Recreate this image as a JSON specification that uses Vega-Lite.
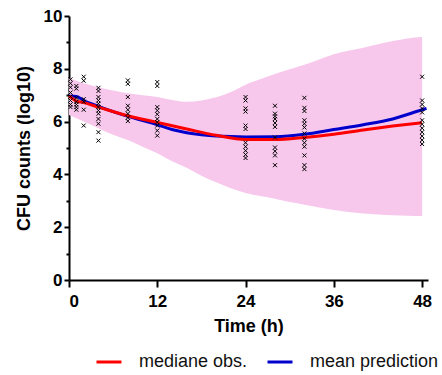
{
  "$schema": "https://vega.github.io/schema/vega-lite/v6.json",
  "width": 359,
  "height": 264,
  "autosize": "none",
  "padding": {"left": 69, "top": 16, "right": 14, "bottom": 95},
  "background": "white",
  "config": {
    "view": {"stroke": null},
    "axis": {
      "domainColor": "black", "domainWidth": 2, "tickColor": "black", "tickWidth": 2,
      "labelFont": "Liberation Sans", "labelFontWeight": "bold", "labelFontSize": 17, "labelColor": "black",
      "titleFont": "Liberation Sans", "titleFontWeight": "bold", "titleFontSize": 18, "titleColor": "black",
      "grid": false
    }
  },
  "datasets": {
    "band": [
      {"t": 0, "lo": 6.25, "hi": 7.65}, {"t": 2, "lo": 6.0, "hi": 7.45}, {"t": 4, "lo": 5.75, "hi": 7.3},
      {"t": 6, "lo": 5.5, "hi": 7.18}, {"t": 8, "lo": 5.3, "hi": 7.07}, {"t": 10, "lo": 5.05, "hi": 7.0},
      {"t": 12, "lo": 4.8, "hi": 6.93}, {"t": 14, "lo": 4.5, "hi": 6.82}, {"t": 16, "lo": 4.25, "hi": 6.75},
      {"t": 18, "lo": 3.95, "hi": 6.8}, {"t": 20, "lo": 3.7, "hi": 6.92}, {"t": 22, "lo": 3.48, "hi": 7.12},
      {"t": 24, "lo": 3.3, "hi": 7.4}, {"t": 26, "lo": 3.18, "hi": 7.6}, {"t": 28, "lo": 3.08, "hi": 7.8},
      {"t": 30, "lo": 2.95, "hi": 7.98}, {"t": 32, "lo": 2.85, "hi": 8.15}, {"t": 34, "lo": 2.75, "hi": 8.35},
      {"t": 36, "lo": 2.65, "hi": 8.55}, {"t": 38, "lo": 2.58, "hi": 8.68}, {"t": 40, "lo": 2.52, "hi": 8.8},
      {"t": 42, "lo": 2.48, "hi": 8.93}, {"t": 44, "lo": 2.45, "hi": 9.05}, {"t": 46, "lo": 2.43, "hi": 9.15},
      {"t": 48, "lo": 2.42, "hi": 9.2}
    ],
    "blue": [
      {"t": 0, "v": 6.97, "series": "mean prediction"}, {"t": 1, "v": 6.95, "series": "mean prediction"},
      {"t": 2, "v": 6.8, "series": "mean prediction"}, {"t": 4, "v": 6.58, "series": "mean prediction"},
      {"t": 8, "v": 6.2, "series": "mean prediction"}, {"t": 12, "v": 5.88, "series": "mean prediction"},
      {"t": 14, "v": 5.7, "series": "mean prediction"}, {"t": 16, "v": 5.58, "series": "mean prediction"},
      {"t": 18, "v": 5.5, "series": "mean prediction"}, {"t": 20, "v": 5.45, "series": "mean prediction"},
      {"t": 24, "v": 5.42, "series": "mean prediction"}, {"t": 28, "v": 5.43, "series": "mean prediction"},
      {"t": 32, "v": 5.52, "series": "mean prediction"}, {"t": 36, "v": 5.7, "series": "mean prediction"},
      {"t": 40, "v": 5.88, "series": "mean prediction"}, {"t": 44, "v": 6.1, "series": "mean prediction"},
      {"t": 48, "v": 6.45, "series": "mean prediction"}, {"t": 48.6, "v": 6.5, "series": "mean prediction"}
    ],
    "red": [
      {"t": 0, "v": 6.97, "series": "mediane obs."}, {"t": 1, "v": 6.78, "series": "mediane obs."},
      {"t": 2, "v": 6.72, "series": "mediane obs."}, {"t": 4, "v": 6.55, "series": "mediane obs."},
      {"t": 8, "v": 6.22, "series": "mediane obs."}, {"t": 12, "v": 5.97, "series": "mediane obs."},
      {"t": 16, "v": 5.72, "series": "mediane obs."}, {"t": 20, "v": 5.48, "series": "mediane obs."},
      {"t": 24, "v": 5.32, "series": "mediane obs."}, {"t": 28, "v": 5.32, "series": "mediane obs."},
      {"t": 32, "v": 5.4, "series": "mediane obs."}, {"t": 36, "v": 5.52, "series": "mediane obs."},
      {"t": 40, "v": 5.68, "series": "mediane obs."}, {"t": 44, "v": 5.83, "series": "mediane obs."},
      {"t": 48, "v": 5.96, "series": "mediane obs."}
    ],
    "obs": [
      {"t": 0.2, "c": 7.6}, {"t": 0.2, "c": 7.45}, {"t": 0.2, "c": 7.3}, {"t": 0.2, "c": 7.1}, {"t": 0.2, "c": 6.95}, {"t": 0.2, "c": 6.8}, {"t": 0.2, "c": 6.65}, {"t": 0.2, "c": 6.55},
      {"t": 1, "c": 7.35}, {"t": 1, "c": 7.25}, {"t": 1, "c": 6.9}, {"t": 1, "c": 6.75}, {"t": 1, "c": 6.65}, {"t": 1, "c": 6.55}, {"t": 1, "c": 6.45},
      {"t": 2, "c": 7.7}, {"t": 2, "c": 7.55}, {"t": 2, "c": 6.85}, {"t": 2, "c": 6.75}, {"t": 2, "c": 6.45}, {"t": 2, "c": 5.85},
      {"t": 4, "c": 7.28}, {"t": 4, "c": 7.16}, {"t": 4, "c": 6.93}, {"t": 4, "c": 6.8}, {"t": 4, "c": 6.68}, {"t": 4, "c": 6.55}, {"t": 4, "c": 6.42}, {"t": 4, "c": 6.3}, {"t": 4, "c": 6.1}, {"t": 4, "c": 5.92}, {"t": 4, "c": 5.6}, {"t": 4, "c": 5.28},
      {"t": 8, "c": 7.56}, {"t": 8, "c": 7.43}, {"t": 8, "c": 6.93}, {"t": 8, "c": 6.6}, {"t": 8, "c": 6.45}, {"t": 8, "c": 6.3}, {"t": 8, "c": 6.15}, {"t": 8, "c": 6.02},
      {"t": 12, "c": 7.5}, {"t": 12, "c": 7.35}, {"t": 12, "c": 6.55}, {"t": 12, "c": 6.42}, {"t": 12, "c": 6.28}, {"t": 12, "c": 6.1}, {"t": 12, "c": 5.98}, {"t": 12, "c": 5.85}, {"t": 12, "c": 5.66}, {"t": 12, "c": 5.47},
      {"t": 24, "c": 6.93}, {"t": 24, "c": 6.8}, {"t": 24, "c": 6.5}, {"t": 24, "c": 6.38}, {"t": 24, "c": 5.85}, {"t": 24, "c": 5.72}, {"t": 24, "c": 5.2}, {"t": 24, "c": 5.05}, {"t": 24, "c": 4.9}, {"t": 24, "c": 4.75}, {"t": 24, "c": 4.62},
      {"t": 28, "c": 6.6}, {"t": 28, "c": 6.3}, {"t": 28, "c": 6.2}, {"t": 28, "c": 6.1}, {"t": 28, "c": 5.95}, {"t": 28, "c": 5.8}, {"t": 28, "c": 5.4}, {"t": 28, "c": 5.02}, {"t": 28, "c": 4.88}, {"t": 28, "c": 4.72}, {"t": 28, "c": 4.35},
      {"t": 32, "c": 6.9}, {"t": 32, "c": 6.52}, {"t": 32, "c": 6.4}, {"t": 32, "c": 6.05}, {"t": 32, "c": 5.92}, {"t": 32, "c": 5.78}, {"t": 32, "c": 5.55}, {"t": 32, "c": 5.35}, {"t": 32, "c": 5.2}, {"t": 32, "c": 5.05}, {"t": 32, "c": 4.72}, {"t": 32, "c": 4.35}, {"t": 32, "c": 4.2},
      {"t": 48, "c": 7.7}, {"t": 48, "c": 6.8}, {"t": 48, "c": 6.65}, {"t": 48, "c": 6.5}, {"t": 48, "c": 6.35}, {"t": 48, "c": 6.05}, {"t": 48, "c": 5.9}, {"t": 48, "c": 5.75}, {"t": 48, "c": 5.6}, {"t": 48, "c": 5.45}, {"t": 48, "c": 5.3}, {"t": 48, "c": 5.15}
    ]
  },
  "resolve": {"axis": {"y": "independent"}},
  "layer": [
    {
      "data": {"name": "band"},
      "mark": {"type": "area", "color": "#F7C8EC", "interpolate": "monotone", "opacity": 1},
      "encoding": {
        "x": {"field": "t", "type": "quantitative", "scale": {"domain": [0, 48.8], "nice": false},
          "axis": {"values": [0, 12, 24, 36, 48], "title": "Time (h)", "tickSize": 7, "labelPadding": 6, "titlePadding": 8}},
        "y": {"field": "hi", "type": "quantitative", "scale": {"domain": [0, 10], "nice": false},
          "axis": {"orient": "left", "values": [0, 2, 4, 6, 8, 10], "title": "CFU counts (log10)", "tickSize": 5, "labelPadding": 2, "titlePadding": 10}},
        "y2": {"field": "lo"}
      }
    },
    {
      "data": {"name": "blue"},
      "mark": {"type": "line", "strokeWidth": 3, "interpolate": "monotone"},
      "encoding": {
        "x": {"field": "t", "type": "quantitative"},
        "y": {"field": "v", "type": "quantitative", "axis": null},
        "color": {"field": "series", "type": "nominal",
          "scale": {"domain": ["mediane obs.", "mean prediction"], "range": ["#FF0000", "#0000CC"]},
          "legend": {"orient": "none", "legendX": 26, "legendY": 332, "direction": "horizontal", "title": null,
            "symbolType": "stroke", "symbolSize": 625, "symbolStrokeWidth": 3, "labelOffset": 16, "columnPadding": 13,
            "labelFont": "Liberation Sans", "labelFontSize": 18, "labelColor": "#111", "padding": 0}}
      }
    },
    {
      "data": {"name": "red"},
      "mark": {"type": "line", "strokeWidth": 3, "interpolate": "monotone"},
      "encoding": {
        "x": {"field": "t", "type": "quantitative"},
        "y": {"field": "v", "type": "quantitative", "axis": null},
        "color": {"field": "series", "type": "nominal"}
      }
    },
    {
      "data": {"name": "obs"},
      "mark": {"type": "point", "shape": "M-1,-1L1,1M-1,1L1,-1", "size": 16, "filled": false, "color": "black", "strokeWidth": 1, "opacity": 1},
      "encoding": {
        "x": {"field": "t", "type": "quantitative"},
        "y": {"field": "c", "type": "quantitative",
          "axis": {"orient": "left", "values": [1, 3, 5, 7, 9], "labels": false, "domain": false, "tickSize": 3, "title": null}}
      }
    }
  ]
}
